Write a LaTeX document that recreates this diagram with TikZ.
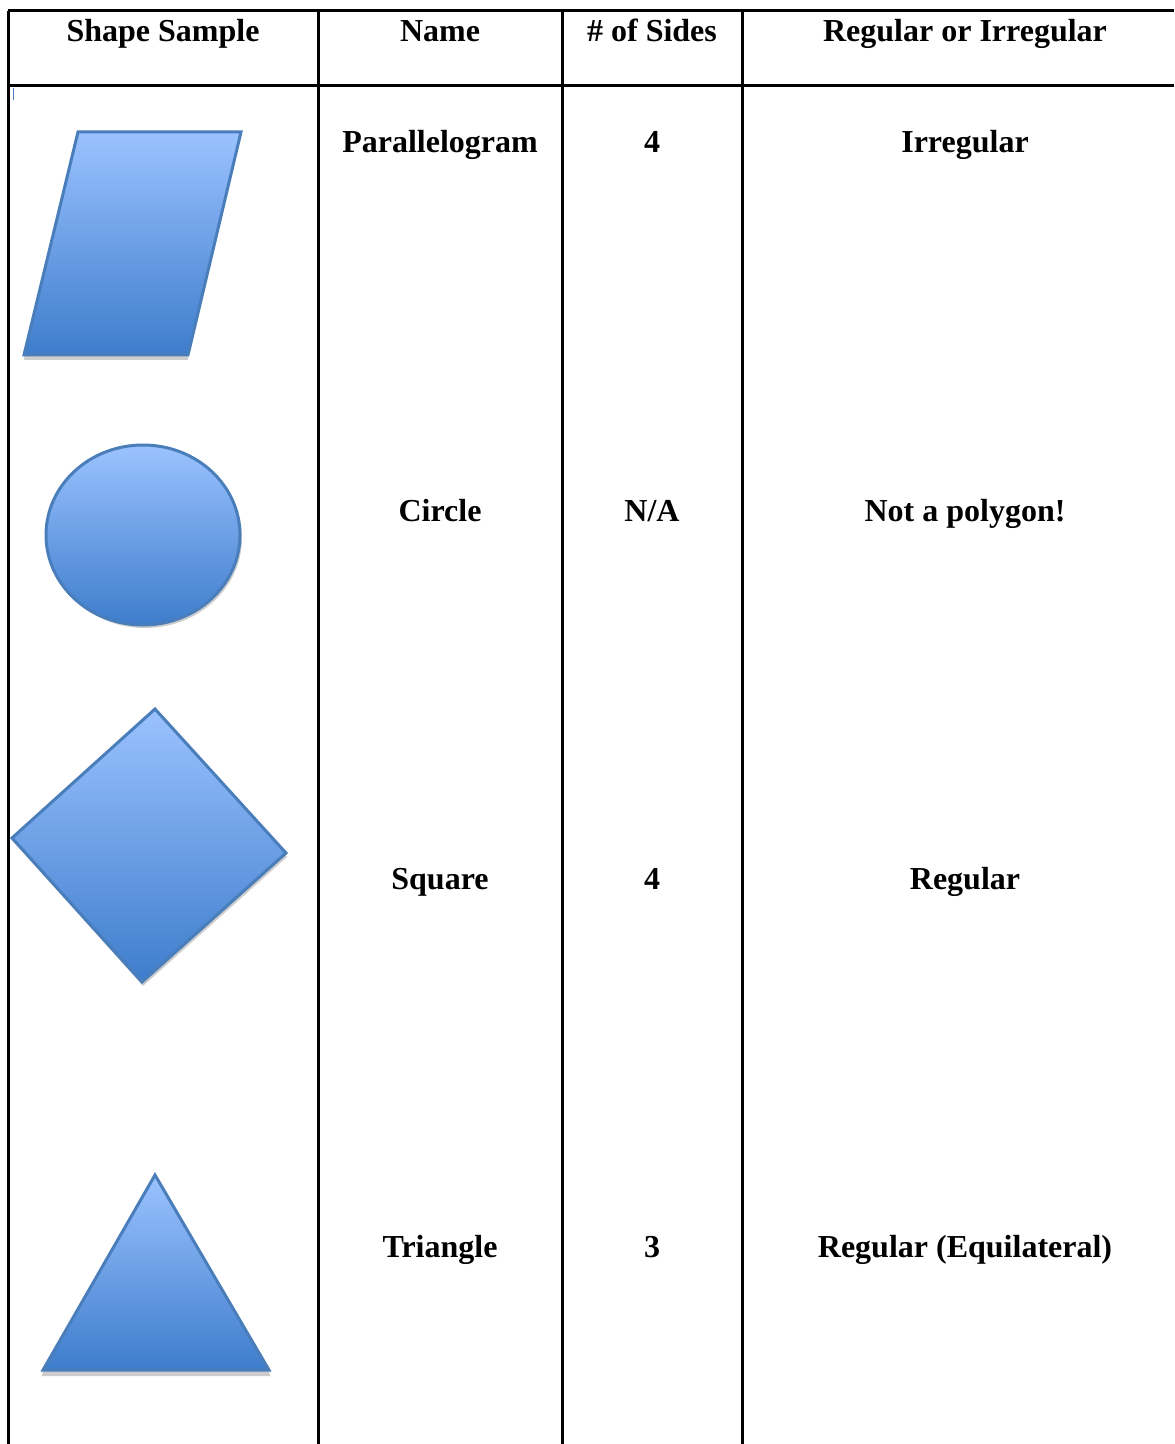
\documentclass[tikz,border=0pt]{standalone}
\usepackage{fontspec}
\setmainfont{Liberation Serif}
\definecolor{shtop}{RGB}{155,194,255}
\definecolor{shbot}{RGB}{62,125,204}
\definecolor{shline}{RGB}{74,126,187}
\definecolor{shshadow}{RGB}{205,205,205}
\begin{document}
\begin{tikzpicture}[x=0.5pt,y=-0.5pt,
  rule/.style={line width=1.5pt,black},
  cell/.style={anchor=base,inner sep=0pt,font=\fontsize{16}{19}\selectfont\bfseries},
  shapefill/.style={top color=shtop,bottom color=shbot,draw=shline,line width=1.5pt,line join=miter},
  shadowfill/.style={fill=shshadow,draw=none}]
\useasboundingbox (0,0) rectangle (1174,1444);
% table rules
\draw[rule] (8,11) -- (1174,11);
\draw[rule] (8,86) -- (1174,86);
\draw[rule] (8,11) -- (8,1444);
\draw[rule] (318,11) -- (318,1444);
\draw[rule] (562,11) -- (562,1444);
\draw[rule] (742,11) -- (742,1444);
\draw[shline,line width=0.5pt] (13,88) -- (13,100);
% header
\node[cell] (h1) at (163,42) {Shape Sample};
\node[cell] (h2) at (440,42) {Name};
\node[cell] (h3) at (652,42) {\# of Sides};
\node[cell] (h4) at (965,42) {Regular or Irregular};
% row 1
\node[cell] (r1a) at (440,153) {Parallelogram};
\node[cell] (r1b) at (652,153) {4};
\node[cell] (r1c) at (965,153) {Irregular};
% row 2
\node[cell] (r2a) at (440,521) {Circle};
\node[cell] (r2b) at (652,521) {N/A};
\node[cell] (r2c) at (965,521) {Not a polygon!};
% row 3
\node[cell] (r3a) at (440,889) {Square};
\node[cell] (r3b) at (652,889) {4};
\node[cell] (r3c) at (965,889) {Regular};
% row 4
\node[cell] (r4a) at (440,1257) {Triangle};
\node[cell] (r4b) at (652,1257) {3};
\node[cell] (r4c) at (965,1257) {Regular (Equilateral)};
% parallelogram
\fill[shadowfill] (25,352) -- (189,352) -- (188,360) -- (24,360) -- cycle;
\draw[shapefill] (78,132) -- (241,132) -- (188,355) -- (24,355) -- cycle;
% circle
\fill[shadowfill] (145,538) ellipse (97 and 90);
\draw[shapefill] (143,535) ellipse (97 and 90);
% diamond
\fill[shadowfill] (13,841) -- (156,712) -- (287,857) -- (143,986) -- cycle;
\draw[shapefill] (155,709) -- (286,853) -- (142,982) -- (12,838) -- cycle;
% triangle
\fill[shadowfill] (43,1368) -- (269,1368) -- (270,1376) -- (42,1376) -- cycle;
\draw[shapefill] (155,1175) -- (269,1370) -- (43,1370) -- cycle;
\end{tikzpicture}
\end{document}
